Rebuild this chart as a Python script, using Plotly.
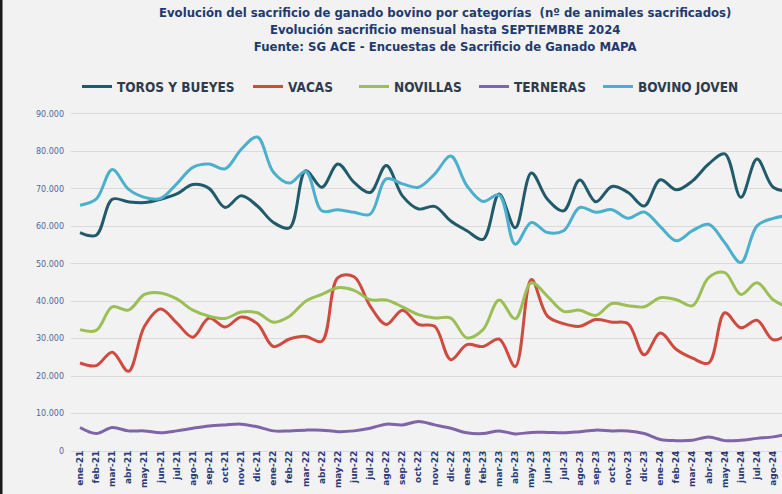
import plotly.graph_objects as go

months = ["ene", "feb", "mar", "abr", "may", "jun", "jul", "ago", "sep", "oct", "nov", "dic"]
categories = [f"{m}-{y}" for y in ["21", "22", "23", "24"] for m in months][:45]

toros = [58.3, 57.6, 67.2, 66.5, 66.3, 67.2, 68.6, 71.1, 70.1, 65.0, 68.1, 65.4, 61.0, 59.6, 74.8,
         70.4, 76.6, 71.7, 69.0, 76.2, 68.1, 64.6, 65.3, 61.4, 58.8, 56.5, 68.6, 59.6, 74.2, 67.2,
         64.1, 72.3, 66.5, 70.6, 69.0, 65.4, 72.4, 69.7, 72.1, 76.6, 79.3, 67.7, 77.9, 70.4, 69.3]
vacas = [23.5, 22.8, 26.4, 21.3, 33.3, 37.9, 34.2, 30.4, 35.5, 33.1, 35.8, 34.0, 27.9, 29.9, 30.6,
         29.3, 46.3, 46.5, 38.7, 33.8, 37.6, 33.8, 33.3, 24.4, 28.4, 27.9, 29.9, 22.6, 45.8, 36.0,
         34.0, 33.3, 35.1, 34.4, 34.0, 25.7, 31.5, 27.1, 24.8, 23.5, 36.9, 32.9, 34.9, 29.7, 31.5]
novillas = [32.4, 32.2, 38.5, 37.6, 41.8, 42.2, 40.6, 37.6, 36.0, 35.4, 37.1, 36.9, 34.4, 36.0, 40.0,
            41.8, 43.6, 42.9, 40.4, 40.3, 38.5, 36.4, 35.5, 35.5, 30.2, 32.4, 40.3, 35.3, 44.9, 41.3,
            37.3, 37.6, 36.2, 39.4, 38.8, 38.5, 40.9, 40.4, 38.8, 46.3, 47.6, 41.8, 44.9, 40.4, 38.2]
terneras = [6.3, 4.7, 6.3, 5.4, 5.4, 4.9, 5.4, 6.1, 6.7, 7.0, 7.2, 6.5, 5.4, 5.4, 5.6,
            5.6, 5.2, 5.4, 6.1, 7.2, 7.0, 7.9, 7.0, 6.1, 4.9, 4.7, 5.4, 4.6, 5.0, 5.0,
            4.9, 5.2, 5.6, 5.4, 5.4, 4.7, 3.1, 2.8, 2.9, 3.8, 2.8, 2.9, 3.4, 3.8, 4.7]
bovino_joven = [65.6, 67.2, 75.1, 69.9, 67.7, 67.4, 71.3, 75.7, 76.6, 75.3, 80.5, 83.8, 74.4, 71.5, 74.6,
                64.1, 64.4, 63.7, 63.2, 72.6, 71.3, 70.4, 73.9, 78.7, 70.8, 66.6, 68.3, 55.2, 61.0, 58.3,
                58.8, 65.0, 63.7, 64.4, 62.1, 63.8, 59.9, 56.1, 58.8, 60.5, 55.6, 50.3, 60.1, 62.1, 62.9]

series = [
    ("TOROS Y BUEYES", toros, "#215b6b"),
    ("VACAS", vacas, "#cf4a3f"),
    ("NOVILLAS", novillas, "#9bbf55"),
    ("TERNERAS", terneras, "#8064a8"),
    ("BOVINO JOVEN", bovino_joven, "#4cb0cc"),
]

COND = "DejaVu Sans Condensed, DejaVu Sans, sans-serif"
L, R, T, B = 71, 0, 110, 41
W, H = 782, 494
pw = W - L - R

legend_text_x = [117, 288, 394, 514, 638]
legend_names = ["legend", "legend2", "legend3", "legend4", "legend5"]

fig = go.Figure()
xs = list(range(len(categories)))
for (name, vals, color), lg in zip(series, legend_names):
    fig.add_trace(go.Scatter(
        x=xs, y=[v * 1000 for v in vals], name=name, mode="lines", legend=lg,
        line=dict(color=color, width=3, shape="spline", smoothing=1.0),
    ))

layout_legends = {}
for lg, tx in zip(legend_names, legend_text_x):
    layout_legends[lg] = dict(
        orientation="h", x=(tx - 40 - L) / pw, y=1.068, xanchor="left", yanchor="middle",
        font=dict(family=COND, size=13.5, color="#2e3b4e", weight="bold"),
        itemwidth=30, bgcolor="rgba(0,0,0,0)",
    )

fig.update_layout(
    width=W, height=H,
    margin=dict(l=L, r=R, t=T, b=B),
    paper_bgcolor="#f2f2f2", plot_bgcolor="#f2f2f2",
    separators=",.",
    showlegend=True,
    **layout_legends,
    xaxis=dict(
        range=[-0.56, 43.55], tickmode="array", tickvals=xs, ticktext=categories,
        tickangle=-90, showgrid=False, zeroline=False, showline=False, automargin=False,
        tickfont=dict(family="DejaVu Sans", size=9, color="#2b3a7a", weight="bold"),
        ticklabelstandoff=-5,
    ),
    yaxis=dict(
        range=[-500, 91000], tickvals=[0, 10000, 20000, 30000, 40000, 50000, 60000, 70000, 80000, 90000],
        tickformat=",d", showgrid=True, gridcolor="#dadada", gridwidth=1, zeroline=False,
        automargin=False,
        tickfont=dict(family="DejaVu Sans", size=8, color="#56649a"),
        ticklabelstandoff=6,
    ),
    annotations=[dict(
        text="Evolución del sacrificio de ganado bovino por categorías  (nº de animales sacrificados)<br>"
             "Evolución sacrificio mensual hasta SEPTIEMBRE 2024<br>"
             "Fuente: SG ACE - Encuestas de Sacrificio de Ganado MAPA",
        xref="paper", yref="paper", x=(445 - L) / pw, y=1.312, xanchor="center", yanchor="top",
        showarrow=False, align="center",
        font=dict(family=COND, size=13, color="#1f3a6e", weight="bold"),
    )],
    shapes=[dict(type="line", xref="paper", yref="paper", x0=-70 / pw, x1=-70 / pw, y0=-0.2, y1=1.35,
                 line=dict(color="#1a1a1a", width=3))],
)

fig.write_html("out.html", config={"displayModeBar": False},
               post_script="document.body.style.margin='0';")
